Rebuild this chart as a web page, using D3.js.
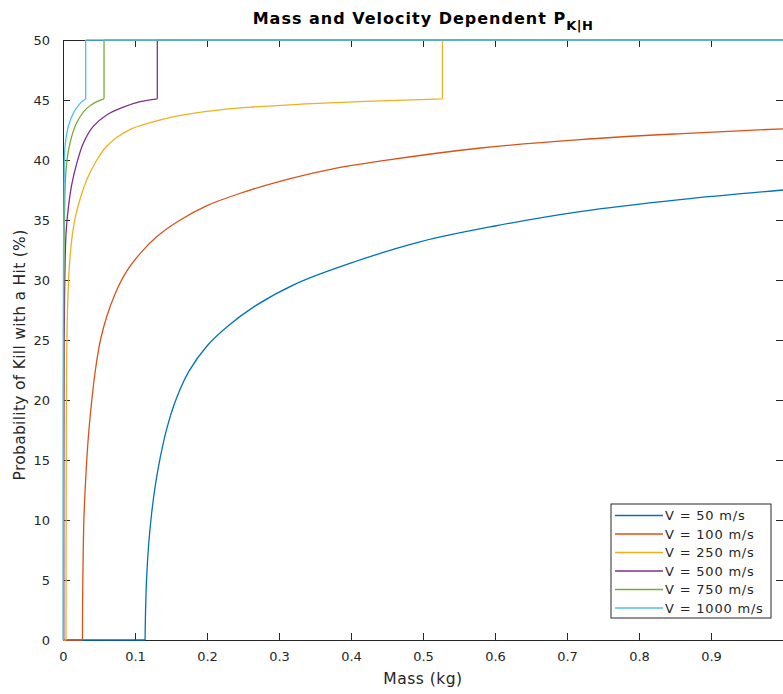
<!DOCTYPE html>
<html lang="en">
<head>
<meta charset="UTF-8">
<title>Mass and Velocity Dependent PK|H</title>
<script src="https://cdnjs.cloudflare.com/ajax/libs/d3/7.8.5/d3.min.js"></script>
<style>
    body { margin: 0; background: #fff; }
    svg text { font-family: "DejaVu Sans", sans-serif; fill: #262626; }
</style>
</head>
<body>
<div id="chart"></div>
<script>
    // series: [mass kg, probability %]
    var labels = ['V = 50 m/s', 'V = 100 m/s', 'V = 250 m/s', 'V = 500 m/s', 'V = 750 m/s', 'V = 1000 m/s'];
    var colors = ['#0072BD', '#D95319', '#EDB120', '#7E2F8E', '#77AC30', '#4DBEEE'];

    var v50 = [[0, 0], [0.114, 0], [0.1145, 2], [0.116, 5], [0.119, 8], [0.123, 10.5], [0.128, 12.8],
        [0.135, 15.2], [0.145, 17.8], [0.158, 20.2], [0.175, 22.4], [0.2, 24.5], [0.23, 26.2], [0.266, 27.8],
        [0.324, 29.7], [0.404, 31.5], [0.497, 33.2], [0.6, 34.5], [0.718, 35.7], [0.857, 36.7], [1.0, 37.5]];
    var v100 = [[0, 0], [0.027, 0], [0.0272, 3], [0.028, 7], [0.029, 10], [0.031, 12.8], [0.033, 15],
        [0.036, 17.5], [0.040, 20], [0.045, 22.5], [0.052, 25], [0.061, 27.0], [0.072, 28.8], [0.087, 30.6],
        [0.107, 32.2], [0.13, 33.6], [0.16, 34.9], [0.2, 36.2], [0.25, 37.3], [0.3, 38.2], [0.37, 39.2],
        [0.44, 39.9], [0.58, 41.0], [0.718, 41.7], [0.86, 42.2], [1.0, 42.6]];
    var v250 = [[0, 0], [0.0042, 0], [0.0043, 8], [0.0046, 18], [0.0052, 24], [0.0065, 28], [0.0085, 30.8],
        [0.012, 33.3], [0.017, 35.2], [0.025, 37], [0.034, 38.5], [0.047, 40], [0.06, 41.1], [0.075, 41.9],
        [0.095, 42.6], [0.12, 43.1], [0.153, 43.6], [0.2, 44.05], [0.26, 44.4], [0.33, 44.65], [0.42, 44.88],
        [0.527, 45.1], [0.527, 50], [1.0, 50]];
    var v500 = [[0, 0], [0.0011, 0], [0.0012, 15], [0.0016, 25], [0.0025, 30], [0.0042, 33.9], [0.0074, 36],
        [0.012, 37.9], [0.019, 39.7], [0.0282, 41.4], [0.042, 42.8], [0.0607, 43.75], [0.0838, 44.4],
        [0.107, 44.86], [0.131, 45.1], [0.131, 50], [1.0, 50]];
    var v750 = [[0, 0], [0.0005, 0], [0.0006, 20], [0.001, 30], [0.002, 35], [0.0042, 39.2], [0.0097, 41.4],
        [0.019, 43.1], [0.033, 44.3], [0.0468, 44.86], [0.057, 45.1], [0.057, 50], [1.0, 50]];
    var v1000 = [[0, 0], [0.0003, 0], [0.0004, 25], [0.0008, 33], [0.0015, 38], [0.0028, 41.1], [0.0074, 42.8],
        [0.0143, 43.9], [0.0236, 44.7], [0.0315, 45.1], [0.0315, 50], [1.0, 50]];
    var series = [v50, v100, v250, v500, v750, v1000];

    var xTicks = [0, 0.1, 0.2, 0.3, 0.4, 0.5, 0.6, 0.7, 0.8, 0.9];
    var yTicks = [0, 5, 10, 15, 20, 25, 30, 35, 40, 45, 50];

    var width = 783, height = 694;
    var margin = { top: 40, right: 0, bottom: 54, left: 63 };

    var svg = d3.select('#chart').append('svg')
        .attr('width', width)
        .attr('height', height);

    var x = d3.scaleLinear().domain([0, 1]).range([margin.left, width - margin.right]);
    var y = d3.scaleLinear().domain([0, 50]).range([height - margin.bottom, margin.top]);

    // axes, ticks point inwards like matlab
    var tickLen = 7;
    var axisColor = '#262626';

    var gBottom = svg.append('g')
        .attr('transform', 'translate(0,' + y(0) + ')')
        .call(d3.axisBottom(x).tickValues(xTicks).tickSize(-tickLen).tickPadding(tickLen + 5)
            .tickFormat(d3.format('')));
    var gTop = svg.append('g')
        .attr('transform', 'translate(0,' + y(50) + ')')
        .call(d3.axisTop(x).tickValues(xTicks).tickSize(-tickLen).tickFormat(''));
    var gLeft = svg.append('g')
        .attr('transform', 'translate(' + x(0) + ',0)')
        .call(d3.axisLeft(y).tickValues(yTicks).tickSize(-tickLen).tickPadding(tickLen + 6));
    var gRight = svg.append('g')
        .attr('transform', 'translate(' + x(1) + ',0)')
        .call(d3.axisRight(y).tickValues(yTicks).tickSize(-tickLen).tickFormat(''));

    [gBottom, gTop, gLeft, gRight].forEach(function (g) {
        g.select('.domain').attr('stroke', axisColor).attr('stroke-width', 1);
        g.selectAll('.tick line').attr('stroke', axisColor);
        g.selectAll('.tick text').style('font-size', '13px').attr('fill', axisColor);
    });

    // curves: smooth through the read points, keep the flat and vertical pieces straight
    var smooth = d3.line()
        .x(function (d) { return x(d[0]); })
        .y(function (d) { return y(d[1]); })
        .curve(d3.curveCatmullRom.alpha(0.5));
    var straight = d3.line()
        .x(function (d) { return x(d[0]); })
        .y(function (d) { return y(d[1]); });

    function pathFor(pts) {
        var d = '', run = [pts[0]];
        for (var i = 1; i < pts.length; i++) {
            var a = pts[i - 1], b = pts[i];
            if (a[0] === b[0] || a[1] === b[1]) {
                if (run.length > 1) d += smooth(run);
                d += straight([a, b]);
                run = [b];
            } else {
                run.push(b);
            }
        }
        if (run.length > 1) d += smooth(run);
        return d;
    }

    svg.append('g').selectAll('path')
        .data(series)
        .join('path')
        .attr('d', pathFor)
        .attr('fill', 'none')
        .attr('stroke', function (d, i) { return colors[i]; })
        .attr('stroke-width', 1.3)
        .attr('stroke-linejoin', 'round');

    // title and axis labels
    var title = svg.append('text')
        .attr('x', (x(0) + x(1)) / 2)
        .attr('y', 24)
        .attr('text-anchor', 'middle')
        .style('font-size', '16px')
        .style('font-weight', 'bold')
        .style('letter-spacing', '1px')
        .style('fill', '#000');
    title.append('tspan').text('Mass and Velocity Dependent P');
    title.append('tspan').text('K|H').attr('dy', 6).style('font-size', '13px').style('letter-spacing', '0.5px');

    svg.append('text')
        .attr('x', (x(0) + x(1)) / 2)
        .attr('y', 684)
        .attr('text-anchor', 'middle')
        .style('font-size', '15.5px')
        .style('letter-spacing', '0.5px')
        .text('Mass (kg)');

    svg.append('text')
        .attr('transform', 'translate(25,355) rotate(-90)')
        .attr('text-anchor', 'middle')
        .style('font-size', '15.5px')
        .style('letter-spacing', '0.3px')
        .text('Probability of Kill with a Hit (%)');

    // legend
    var legend = svg.append('g').attr('transform', 'translate(611,504)');
    legend.append('rect')
        .attr('width', 160).attr('height', 114)
        .attr('fill', '#fff').attr('stroke', axisColor);
    var rows = legend.selectAll('g.row')
        .data(labels)
        .join('g')
        .attr('class', 'row')
        .attr('transform', function (d, i) { return 'translate(0,' + (11.5 + i * 18.5) + ')'; });
    rows.append('line')
        .attr('x1', 4).attr('x2', 52)
        .attr('stroke', function (d, i) { return colors[i]; })
        .attr('stroke-width', 1.3);
    rows.append('text')
        .attr('x', 54).attr('dy', '0.36em')
        .style('font-size', '13px')
        .style('letter-spacing', '0.8px')
        .text(function (d) { return d; });
</script>
</body>
</html>
